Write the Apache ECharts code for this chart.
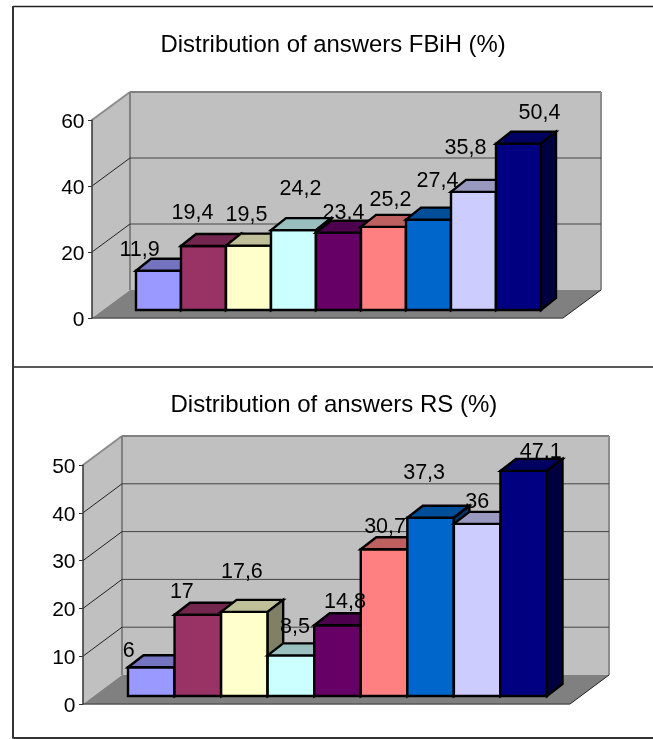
<!DOCTYPE html>
<html>
<head>
<meta charset="utf-8">
<style>html,body{margin:0;padding:0;background:#fff;overflow:hidden}#c{width:653px;height:739px}</style>
<script src="https://cdn.jsdelivr.net/npm/echarts@6/dist/echarts.min.js"></script>
</head>
<body>
<div id="c"></div>
<script>
var categories = ['A','B','C','D','E','F','G','H','I'];
var valuesFBiH = [11.9,19.4,19.5,24.2,23.4,25.2,27.4,35.8,50.4];
var valuesRS = [6,17,17.6,8.5,14.8,30.7,37.3,36,47.1];
var ticksFBiH = [0,20,40,60];
var ticksRS = [0,10,20,30,40,50];
var titleFBiH = 'Distribution of answers FBiH (%)';
var titleRS = 'Distribution of answers RS (%)';
var barColors = ['#9999FF','#993366','#FFFFCC','#CCFFFF','#660066','#FF8080','#0066CC','#CCCCFF','#000080'];

// layout of each 3D panel, in pixels
var layouts = [
  {front:{left:92,top:120,width:471,height:198}, bars:{left:136,top:112,width:405,height:198},
   wallDx:38, wallDy:-28, barDx:15, barDy:-12, max:60,
   labelDx:[-19,-11,-2,7,5,7,9,-8,21], labelDy:[-20.5,-32.5,-30.5,-41.5,-19.5,-26.5,-38.5,-43.5,-30.5]},
  {front:{left:83,top:465,width:487,height:239}, bars:{left:128,top:457,width:419,height:239},
   wallDx:39, wallDy:-29, barDx:15.5, barDy:-12, max:50,
   labelDx:[-22.5,-16,-2.5,4,7.5,1,-6.5,0,17], labelDy:[-16.5,-22.5,-39.5,-28.5,-23.5,-22.5,-45,-21.5,-18.5]}
];

function shade(hex,f){
  var n=parseInt(hex.slice(1),16);
  var r=Math.round((n>>16&255)*f),g=Math.round((n>>8&255)*f),b=Math.round((n&255)*f);
  return 'rgb('+r+','+g+','+b+')';
}
function poly(points,fill,stroke,lw){
  return {type:'polygon',shape:{points:points},style:{fill:fill,stroke:stroke||null,lineWidth:lw||0,lineJoin:'miter'}};
}
function line(a,b,color,w){
  return {type:'line',shape:{x1:a[0],y1:a[1],x2:b[0],y2:b[1]},style:{stroke:color,lineWidth:w,fill:null}};
}
function frameSeries(L,gridIdx){
  return {
    type:'custom',xAxisIndex:gridIdx,yAxisIndex:gridIdx,coordinateSystem:'cartesian2d',z:2,silent:true,clip:false,
    encode:{x:0,y:1},
    renderItem:function(params,api){
      var dx=L.wallDx,dy=L.wallDy,kids=[];
      var fb=api.coord([0,0]),ft=api.coord([0,L.max]),rb=api.coord([1,0]);
      function back(p){return [p[0]+dx,p[1]+dy];}
      if(params.dataIndex===0){
        var bb=back(fb),bt=back(ft),br=back(rb),brt=[br[0],bt[1]];
        kids.push(poly([bb,bt,brt,br],'#C0C0C0'));
        kids.push(poly([fb,ft,bt,bb],'#C0C0C0'));
        kids.push(poly([fb,bb,br,rb],'#808080'));
        kids.push(line(ft,bt,'#8c8c8c',2));
        kids.push(line(bb,bt,'#808080',2));
        kids.push(line(bt,brt,'#808080',2));
        kids.push(line(brt,br,'#8c8c8c',2));
        kids.push(line(fb,rb,'#555555',1.5));
        kids.push(line(rb,br,'#222222',1));
      } else if(api.value(1)<L.max){
        var p=api.coord([0,api.value(1)]),q=back(p),r=[back(rb)[0],q[1]];
        kids.push(line(p,q,'#222222',1));
        kids.push(line(q,r,'#444444',1));
      }
      return {type:'group',children:kids};
    },
    data:[]
  };
}
function barSeries(L,gridIdx,colors){
  return {
    type:'custom',xAxisIndex:gridIdx,yAxisIndex:gridIdx,coordinateSystem:'cartesian2d',z:3,silent:true,clip:false,
    encode:{x:0,y:1},
    renderItem:function(params,api){
      var i=params.dataIndex,c=colors[i];
      var base=api.coord([i,0]),top=api.coord([i,api.value(1)]);
      var w=api.size([1,0])[0],x0=base[0]-w/2,x1=base[0]+w/2;
      var dx=L.barDx,dy=L.barDy,yb=base[1],yt=top[1];
      return {type:'group',children:[
        poly([[x0,yb],[x0,yt],[x1,yt],[x1,yb]],c,'#000',2.4),
        poly([[x0,yt],[x0+dx,yt+dy],[x1+dx,yt+dy],[x1,yt]],shade(c,0.75),'#000',2.4),
        poly([[x1,yb],[x1,yt],[x1+dx,yt+dy],[x1+dx,yb+dy]],shade(c,0.5),'#000',2.4)
      ]};
    },
    data:[]
  };
}
function labelSeries(L,gridIdx,labels){
  return {
    type:'custom',xAxisIndex:gridIdx,yAxisIndex:gridIdx,coordinateSystem:'cartesian2d',z:4,silent:true,clip:false,
    encode:{x:0,y:1},
    renderItem:function(params,api){
      var i=params.dataIndex,top=api.coord([i,api.value(1)]);
      return {type:'text',style:{text:labels[i],x:top[0]+L.labelDx[i],y:top[1]+L.labelDy[i],
        align:'center',verticalAlign:'middle',fill:'#000',font:'21.5px "Liberation Sans",Arial,sans-serif'}};
    },
    data:[]
  };
}
function fmt(v){return String(v).replace('.',',');}
function panel(idx,values,ticks){
  var L=layouts[idx],g0=idx*2,g1=idx*2+1;
  var f=frameSeries(L,g0);
  f.data=[[0,0]].concat(ticks.filter(function(t){return t>0;}).map(function(t){return [0,t];}));
  var b=barSeries(L,g1,barColors);
  b.data=values.map(function(v,i){return [i,v];});
  var t=labelSeries(L,g1,values.map(fmt));
  t.data=values.map(function(v,i){return [i,v];});
  return {
    grids:[Object.assign({containLabel:false},L.front),Object.assign({containLabel:false},L.bars)],
    xAxes:[
      {type:'value',gridIndex:g0,min:0,max:1,show:false},
      {type:'category',gridIndex:g1,data:categories,show:false,boundaryGap:true}
    ],
    yAxes:[
      {type:'value',gridIndex:g0,min:0,max:L.max,interval:ticks[1]-ticks[0],z:6,
       axisLine:{show:true,onZero:false,lineStyle:{color:'#333333',width:1.5}},
       axisTick:{show:true,length:4,lineStyle:{color:'#333333',width:1}},
       splitLine:{show:false},
       axisLabel:{color:'#000',fontSize:21,fontFamily:'"Liberation Sans",Arial,sans-serif',margin:7.5,verticalAlign:'top',lineHeight:4}},
      {type:'value',gridIndex:g1,min:0,max:L.max,show:false}
    ],
    series:[f,b,t]
  };
}
var p1=panel(0,valuesFBiH,ticksFBiH),p2=panel(1,valuesRS,ticksRS);
var chart=echarts.init(document.getElementById('c'),null,{renderer:'canvas'});
chart.setOption({
  animation:false,
  backgroundColor:'#fff',
  title:[
    {text:titleFBiH,left:155.5,top:28,textStyle:{fontSize:23.9,fontWeight:'normal',color:'#000',fontFamily:'"Liberation Sans",Arial,sans-serif'}},
    {text:titleRS,left:165.5,top:388,textStyle:{fontSize:24,fontWeight:'normal',color:'#000',fontFamily:'"Liberation Sans",Arial,sans-serif'}}
  ],
  graphic:[
    {type:'line',shape:{x1:13,y1:6.5,x2:653,y2:6.5},style:{stroke:'#222',lineWidth:1.5},silent:true,z:-1},
    {type:'line',shape:{x1:13,y1:367,x2:653,y2:367},style:{stroke:'#222',lineWidth:1.5},silent:true,z:-1},
    {type:'line',shape:{x1:13,y1:738,x2:653,y2:738},style:{stroke:'#333',lineWidth:2},silent:true,z:-1},
    {type:'line',shape:{x1:13,y1:6,x2:13,y2:738.5},style:{stroke:'#333',lineWidth:2},silent:true,z:-1}
  ],
  grid:p1.grids.concat(p2.grids),
  xAxis:p1.xAxes.concat(p2.xAxes),
  yAxis:p1.yAxes.concat(p2.yAxes),
  series:p1.series.concat(p2.series)
});
</script>
</body>
</html>
